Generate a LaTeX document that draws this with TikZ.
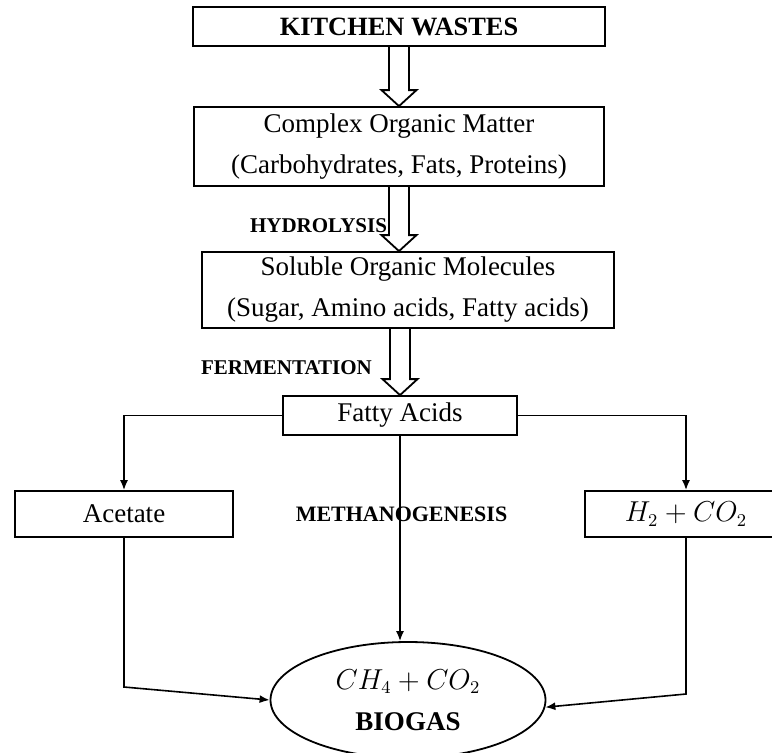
\documentclass[tikz,border=0pt]{standalone}
\usepackage{fontspec}
\setmainfont{Liberation Serif}
\usetikzlibrary{shapes.geometric,arrows.meta,calc}

\begin{document}
\begin{tikzpicture}[x=0.5pt,y=-0.5pt,
		stagebox/.style={draw,line width=0.9pt,inner sep=0pt,align=center,
			font=\fontsize{13.5}{20.5}\selectfont},
		steplabel/.style={font=\bfseries\fontsize{10.5}{12}\selectfont},
		flow/.style={line width=0.8pt,-{Latex[length=5pt,width=4pt]}}]
		\useasboundingbox(0,0)rectangle(772,752);
		\def\HollowArrow#1#2{
			\draw[line width=0.9pt]($(#1)+(-10,0)$)--($(#2)+(-10,-16)$)
				--($(#2)+(-17.5,-16)$)--(#2)--($(#2)+(17.5,-16)$)
				--($(#2)+(10,-16)$)--($(#1)+(10,0)$);
		}
		% stages
		\node[stagebox,minimum width=206pt,minimum height=19.5pt,
			font=\bfseries\fontsize{13.2}{16}\selectfont](kitchen)at(399,26.5){KITCHEN WASTES};
		\node[stagebox,minimum width=205pt,minimum height=39.5pt](complex)at(399,146.5)
			{Complex Organic Matter\\(Carbohydrates, Fats, Proteins)};
		\node[stagebox,minimum width=206pt,minimum height=38pt](soluble)at(408,290)
			{Soluble Organic Molecules\\(Sugar, Amino acids, Fatty acids)};
		\node[stagebox,minimum width=117pt,minimum height=19.5pt](fatty)at(400,415.5){Fatty Acids};
		\node[stagebox,minimum width=109pt,minimum height=23pt](acetate)at(124,514){Acetate};
		\node[stagebox,minimum width=101pt,minimum height=23pt](h2)at(686,514){$H_2+CO_2$};
		\node[stagebox,ellipse,minimum width=137.5pt,minimum height=58pt](biogas)at(408,700)
			{$CH_4+CO_2$\\\textbf{BIOGAS}};
		% process names
		\node[steplabel](hydrolysis)at(318.5,226){HYDROLYSIS};
		\node[steplabel](fermentation)at(286.5,368){FERMENTATION};
		\node[steplabel,font=\bfseries\fontsize{11}{13}\selectfont](methanogenesis)at(401.5,514){METHANOGENESIS};
		% hollow arrows
		\coordinate(soltop)at(complex.south |- soluble.north);
		\coordinate(solbot)at(soluble.south -| fatty.north);
		\HollowArrow{kitchen.south}{complex.north}
		\HollowArrow{complex.south}{soltop}
		\HollowArrow{solbot}{fatty.north}
		% thin arrows
		\coordinate(lbend)at(acetate.south |- 0,687);
		\coordinate(rbend)at(h2.south |- 0,694);
		\draw[flow](fatty.west)-|(acetate.north);
		\draw[flow](fatty.east)-|(h2.north);
		\draw[flow](fatty.south)--(fatty.south |- biogas.north);
		\draw[flow](acetate.south)--(lbend)--(biogas.west);
		\draw[flow](h2.south)--(rbend)--(biogas.-3);
	\end{tikzpicture}
\end{document}
